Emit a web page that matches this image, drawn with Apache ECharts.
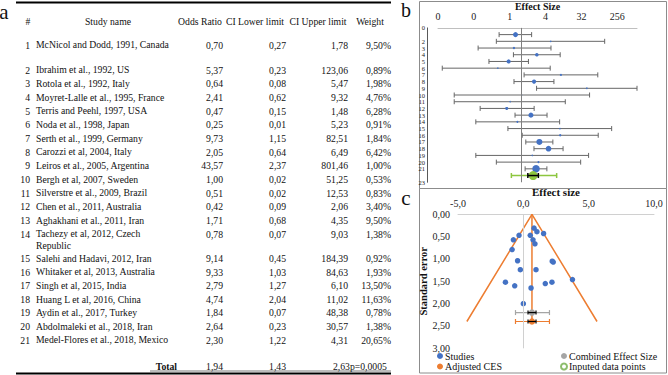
<!DOCTYPE html>
<html>
<head>
<meta charset="utf-8">
<script src="https://cdn.jsdelivr.net/npm/echarts@6/dist/echarts.min.js"></script>
<style>
  html, body { margin: 0; padding: 0; background: #fff; }
  #chart { width: 668px; height: 375px; }
</style>
</head>
<body>
<div id="chart"></div>
<script>
// ---- table data (panel a) ----
var studyNames = [
  'McNicol and Dodd, 1991, Canada', 'Ibrahim et al., 1992, US', 'Rotola et al., 1992, Italy',
  'Moyret-Lalle et al., 1995, France', 'Terris and Peehl, 1997, USA', 'Noda et al., 1998, Japan',
  'Serth et al., 1999, Germany', 'Carozzi et al, 2004, Italy', 'Leiros et al., 2005, Argentina',
  'Bergh et al, 2007, Sweden', 'Silverstre et al., 2009, Brazil', 'Chen et al., 2011, Australia',
  'Aghakhani et al., 2011, Iran', 'Tachezy et al, 2012, Czech Republic', 'Salehi and Hadavi, 2012, Iran',
  'Whitaker et al, 2013, Australia', 'Singh et al, 2015, India', 'Huang L et al, 2016, China',
  'Aydin et al., 2017, Turkey', 'Abdolmaleki et al., 2018, Iran', 'Medel-Flores et al., 2018, Mexico'
];
var oddsRatio = [0.70, 5.37, 0.64, 2.41, 0.47, 0.25, 9.73, 2.05, 43.57, 1.00, 0.51, 0.42, 1.71, 0.78, 9.14, 9.33, 2.79, 4.74, 1.84, 2.64, 2.30];
var ciLower = [0.27, 0.23, 0.08, 0.62, 0.15, 0.01, 1.15, 0.64, 2.37, 0.02, 0.02, 0.09, 0.68, 0.07, 0.45, 1.03, 1.27, 2.04, 0.07, 0.23, 1.22];
var ciUpper = [1.78, 123.06, 5.47, 9.32, 1.48, 5.23, 82.51, 6.49, 801.46, 51.25, 12.53, 2.06, 4.35, 9.03, 184.39, 84.63, 6.10, 11.02, 48.38, 30.57, 4.31];
var weights = [9.50, 0.89, 1.98, 4.76, 6.28, 0.91, 1.84, 6.42, 1.00, 0.53, 0.83, 3.40, 9.50, 1.38, 0.92, 1.93, 13.50, 11.63, 0.78, 1.38, 20.65];
var pooled = [1.94, 1.43, 2.63];       // OR, lower, upper
var pValue = '0,0005';
var predInterval = [0.55, 7.6];         // green bar in panel b

// ---- panel b axis ticks ----
var forestTicks = [1 / 128, 1 / 16, 1 / 2, 4, 32, 256];

// ---- panel c (funnel) values ----
var funnelEffect = [-0.33, 1.68, -0.44, 0.89, -0.76, -1.37, 2.29, 0.74, 3.76, 0.00, -0.66, -0.86, 0.53, -0.23, 2.19, 2.21, 1.04, 1.55, 0.59, 0.97, 0.82];
var funnelSE = [0.47, 1.55, 1.04, 0.66, 0.57, 1.52, 1.07, 0.57, 1.46, 2.00, 1.60, 0.79, 0.47, 1.24, 1.52, 1.05, 0.39, 0.43, 1.65, 1.24, 0.31];
var funnelEdges = [[-4.32, 2.40], [0.66, 0], [5.64, 2.40]];
var combinedCES = [0.66, 2.20];
var adjustedCES = [0.66, 2.40];
var cesOuter = [-0.60, 2.00];
var cesInner = [0.36, 0.97];

var SERIF = "'Liberation Serif', 'Times New Roman', serif";
var TXT = '#111';

function log8(v) { return Math.log(v) / Math.log(8); }
function fmt(v, d) { return v.toFixed(d).replace('.', ','); }

// ---- table layout ----
function rowY(k) {
  if (k === 1) return 45;
  if (k <= 14) return 70.3 + (k - 2) * 13.65;
  return 258.7 + (k - 15) * 13.55;
}
var tableFont = '9.7px ' + SERIF;
var graphics = [];
function txt(s, x, y, align, font, vAlign) {
  graphics.push({
    type: 'text', silent: true,
    style: { text: s, x: x, y: y, align: align, verticalAlign: vAlign || 'middle', font: font || tableFont, fill: TXT }
  });
}
// header
txt('#', 28, 21, 'center');
txt('Study name', 108, 21, 'center');
txt('Odds Ratio', 200, 21, 'center');
txt('CI Lower limit', 255, 21, 'center');
txt('CI Upper limit', 318, 21, 'center');
txt('Weight', 370, 21, 'center');
for (var i = 0; i < studyNames.length; i++) {
  var y = rowY(i + 1);
  txt(String(i + 1), 30, y, 'right');
  graphics.push({
    type: 'text', silent: true,
    style: {
      text: studyNames[i], x: 36, y: y - 6, width: 138, overflow: 'break', lineHeight: 11.3,
      align: 'left', verticalAlign: 'top', font: tableFont, fill: TXT
    }
  });
  txt(fmt(oddsRatio[i], 2), 223, y, 'right');
  txt(fmt(ciLower[i], 2), 286, y, 'right');
  txt(fmt(ciUpper[i], 2), 348, y, 'right');
  txt(fmt(weights[i], 2) + '%', 391, y, 'right');
}
txt('Total', 177, 366.5, 'right', 'bold 9.7px ' + SERIF);
txt(fmt(pooled[0], 2), 223, 366.5, 'right');
txt(fmt(pooled[1], 2), 286, 366.5, 'right');
txt(fmt(pooled[2], 2) + 'p=' + pValue, 333, 366.5, 'left');
graphics.push({ type: 'line', silent: true, shape: { x1: 16, y1: 2.5, x2: 391, y2: 2.5 }, style: { stroke: '#000', lineWidth: 2 } });
graphics.push({ type: 'line', silent: true, shape: { x1: 150, y1: 371, x2: 391, y2: 371 }, style: { stroke: '#444', lineWidth: 0.7 } });
graphics.push({ type: 'line', silent: true, shape: { x1: 16, y1: 373.5, x2: 391, y2: 373.5 }, style: { stroke: '#000', lineWidth: 2 } });

// panel frames and letters
graphics.push({ type: 'rect', silent: true, shape: { x: 419.5, y: 1.5, width: 247, height: 187 }, style: { fill: 'none', stroke: '#8c8c8c', lineWidth: 1 } });
graphics.push({ type: 'rect', silent: true, shape: { x: 419.5, y: 188.5, width: 247, height: 184.5 }, style: { fill: 'none', stroke: '#8c8c8c', lineWidth: 1 } });
txt('a', 4, 1, 'center', '21px ' + SERIF, 'top');
txt('b', 406, 0, 'center', '20px ' + SERIF, 'top');
txt('c', 406, 187, 'center', '21px ' + SERIF, 'top');

// ---- error bar renderer ----
function errBar(color, width, cap) {
  return function (params, api) {
    var yv = api.value(0);
    var p1 = api.coord([api.value(1), yv]);
    var p2 = api.coord([api.value(2), yv]);
    var st = { stroke: color, lineWidth: width };
    return {
      type: 'group', children: [
        { type: 'line', shape: { x1: p1[0], y1: p1[1], x2: p2[0], y2: p2[1] }, style: st },
        { type: 'line', shape: { x1: p1[0], y1: p1[1] - cap, x2: p1[0], y2: p1[1] + cap }, style: st },
        { type: 'line', shape: { x1: p2[0], y1: p2[1] - cap, x2: p2[0], y2: p2[1] + cap }, style: st }
      ]
    };
  };
}

var forestBars = [], forestDots = [];
for (var j = 0; j < oddsRatio.length; j++) {
  forestBars.push([j + 1, log8(ciLower[j]), log8(ciUpper[j])]);
  forestDots.push({ value: [log8(oddsRatio[j]), j + 1], symbolSize: Math.sqrt(weights[j]) * 1.65 });
}
var funnelPts = funnelEffect.map(function (v, k) { return [v, funnelSE[k]]; });

var legendText = { fontFamily: SERIF, fontSize: 10, color: TXT, padding: [0, 0, 0, -3] };

var option = {
  animation: false,
  textStyle: { fontFamily: SERIF },
  graphic: { elements: graphics },
  grid: [
    { left: 438, right: 31, top: 27, height: 155.25 },
    { left: 458, right: 14, top: 214.3, bottom: 26.7 }
  ],
  xAxis: [
    {
      gridIndex: 0, type: 'value', position: 'top',
      min: log8(1 / 128), max: log8(801.46),
      name: 'Effect Size', nameLocation: 'middle', nameGap: 13,
      nameTextStyle: { fontFamily: SERIF, fontWeight: 'bold', fontSize: 10, color: TXT },
      axisLine: { show: true, lineStyle: { color: '#bfbfbf' } },
      axisTick: { show: false },
      splitLine: { show: false },
      axisLabel: {
        customValues: forestTicks.map(log8), margin: 6,
        fontFamily: SERIF, fontSize: 10, color: '#222',
        formatter: function (v) { return String(Math.round(Math.pow(8, v) + 1e-9)); }
      }
    },
    {
      gridIndex: 1, type: 'value', position: 'top', min: -5, max: 10, interval: 5,
      name: 'Effect size', nameLocation: 'middle', nameGap: 14,
      nameTextStyle: { fontFamily: SERIF, fontWeight: 'bold', fontSize: 11, color: TXT },
      axisLine: { show: true, onZero: false, lineStyle: { color: '#d0d0d0' } },
      axisTick: { show: false },
      splitLine: { show: false },
      axisLabel: { fontFamily: SERIF, fontSize: 10, color: '#222', margin: 6, formatter: function (v) { return fmt(v, 1); } }
    }
  ],
  yAxis: [
    {
      gridIndex: 0, type: 'value', inverse: true, min: 0, max: 23, interval: 1, offset: 11,
      axisLine: { show: true, onZero: false, lineStyle: { color: '#595959' } },
      axisTick: { show: false },
      splitLine: { show: false },
      axisLabel: {
        fontFamily: SERIF, fontSize: 6.5, lineHeight: 6, color: '#222', margin: 2,
        showMinLabel: true, showMaxLabel: true, hideOverlap: false
      }
    },
    {
      gridIndex: 1, type: 'value', inverse: true, min: 0, max: 3, interval: 0.5,
      name: 'Standard error', nameLocation: 'middle', nameGap: 28,
      nameTextStyle: { fontFamily: SERIF, fontWeight: 'bold', fontSize: 10.5, color: TXT },
      axisLine: { show: false },
      axisTick: { show: false },
      splitLine: { show: false },
      axisLabel: { fontFamily: SERIF, fontSize: 10, color: '#222', margin: 8, formatter: function (v) { return fmt(v, 2); } }
    }
  ],
  legend: [
    {
      left: 437, top: 351, orient: 'vertical', padding: 0, itemWidth: 6, itemHeight: 6, itemGap: 0.5,
      textStyle: legendText,
      data: [{ name: 'Studies', icon: 'circle' }, { name: 'Adjusted CES', icon: 'circle' }]
    },
    {
      left: 560, top: 351, orient: 'vertical', padding: 0, itemWidth: 6, itemHeight: 6, itemGap: 0.5,
      textStyle: legendText,
      data: [{ name: 'Combined Effect Size', icon: 'circle' }, { name: 'Inputed data points', icon: 'emptyCircle' }]
    }
  ],
  series: [
    // ---- panel b ----
    {
      name: 'forestCI', type: 'custom', xAxisIndex: 0, yAxisIndex: 0,
      renderItem: errBar('#666666', 1, 2.5), encode: { x: [1, 2], y: 0 }, data: forestBars,
      markLine: {
        silent: true, symbol: 'none', label: { show: false },
        lineStyle: { color: '#7f7f7f', width: 1, type: 'solid' },
        data: [{ xAxis: 0 }]
      },
      z: 2
    },
    {
      name: 'forestOR', type: 'scatter', xAxisIndex: 0, yAxisIndex: 0,
      itemStyle: { color: '#4472C4', opacity: 1 }, data: forestDots, z: 3
    },
    {
      name: 'pooledPI', type: 'custom', xAxisIndex: 0, yAxisIndex: 0,
      renderItem: errBar('#8DC63F', 1.5, 2.5), encode: { x: [1, 2], y: 0 },
      data: [[22, log8(predInterval[0]), log8(predInterval[1])]], z: 3
    },
    {
      name: 'pooledOR', type: 'scatter', xAxisIndex: 0, yAxisIndex: 0, symbolSize: 9,
      itemStyle: { color: '#8DC63F', opacity: 1 }, data: [[log8(pooled[0]), 22]], z: 4
    },
    {
      name: 'pooledCI', type: 'custom', xAxisIndex: 0, yAxisIndex: 0,
      renderItem: errBar('#000', 1.5, 2.5), encode: { x: [1, 2], y: 0 },
      data: [[22, log8(pooled[1]), log8(pooled[2])]], z: 5
    },
    // ---- panel c ----
    {
      name: 'funnel', type: 'line', xAxisIndex: 1, yAxisIndex: 1, symbol: 'none',
      lineStyle: { color: '#ED7D31', width: 1.5 }, data: funnelEdges,
      markLine: {
        silent: true, symbol: 'none', label: { show: false },
        lineStyle: { color: '#d0d0d0', width: 1, type: 'solid' },
        data: [{ xAxis: 0 }]
      },
      z: 2
    },
    {
      name: 'cesLine', type: 'line', xAxisIndex: 1, yAxisIndex: 1, symbol: 'none',
      lineStyle: { color: '#ED7D31', width: 1.5 }, data: [[funnelEdges[1][0], 0], adjustedCES], z: 2
    },
    {
      name: 'Studies', type: 'scatter', xAxisIndex: 1, yAxisIndex: 1, symbolSize: 5.5,
      itemStyle: { color: '#4472C4', opacity: 1 }, data: funnelPts, z: 3
    },
    {
      name: 'combinedBar', type: 'custom', xAxisIndex: 1, yAxisIndex: 1,
      renderItem: errBar('#a5a5a5', 1.2, 2.5), encode: { x: [1, 2], y: 0 },
      data: [[combinedCES[1], cesOuter[0], cesOuter[1]]], z: 3
    },
    {
      name: 'adjustedBar', type: 'custom', xAxisIndex: 1, yAxisIndex: 1,
      renderItem: errBar('#ED7D31', 1.2, 2.5), encode: { x: [1, 2], y: 0 },
      data: [[adjustedCES[1], cesOuter[0], cesOuter[1]]], z: 3
    },
    {
      name: 'Combined Effect Size', type: 'scatter', xAxisIndex: 1, yAxisIndex: 1, symbolSize: 6.5,
      itemStyle: { color: '#a5a5a5', opacity: 1 }, data: [combinedCES], z: 4
    },
    {
      name: 'Adjusted CES', type: 'scatter', xAxisIndex: 1, yAxisIndex: 1, symbolSize: 6.5,
      itemStyle: { color: '#ED7D31', opacity: 1 }, data: [adjustedCES], z: 4
    },
    {
      name: 'innerBars', type: 'custom', xAxisIndex: 1, yAxisIndex: 1,
      renderItem: errBar('#000', 1.2, 2), encode: { x: [1, 2], y: 0 },
      data: [[combinedCES[1], cesInner[0], cesInner[1]], [adjustedCES[1], cesInner[0], cesInner[1]]], z: 5
    },
    {
      name: 'Inputed data points', type: 'scatter', xAxisIndex: 1, yAxisIndex: 1, symbol: 'emptyCircle',
      symbolSize: 6, itemStyle: { color: '#70AD47' }, data: []
    }
  ]
};

var chart = echarts.init(document.getElementById('chart'), null, { renderer: 'svg' });
chart.setOption(option);
</script>
</body>
</html>
